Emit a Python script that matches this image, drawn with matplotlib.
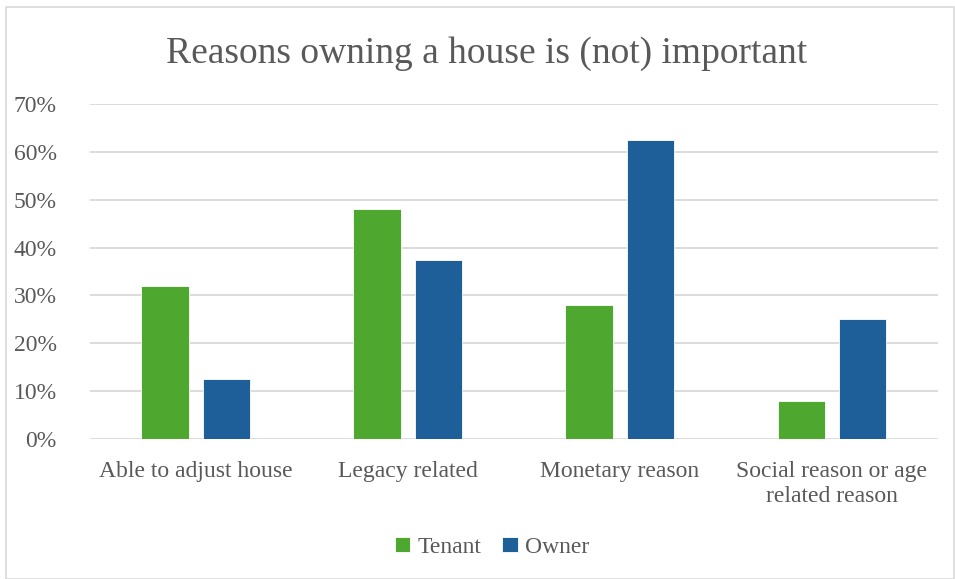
import matplotlib.pyplot as plt
import numpy as np
from matplotlib.patches import Rectangle

categories = ["Able to adjust house", "Legacy related", "Monetary reason",
              "Social reason or age\nrelated reason"]
tenant = [0.32, 0.48, 0.28, 0.08]
owner = [0.125, 0.375, 0.625, 0.25]

plt.rcParams['font.family'] = ['Liberation Serif', 'DejaVu Serif']
text_col = '#595959'

fig = plt.figure(figsize=(9.55, 5.79), dpi=100)
fig.patches.append(Rectangle((0.006, 0.0), 0.993, 0.988, transform=fig.transFigure,
                             fill=False, edgecolor='#D9D9D9', linewidth=1.2))
ax = fig.add_axes([0.0942, 0.2418, 0.888, 0.5786])

x = np.arange(len(categories))
w = 0.226
gap = 0.062
ax.bar(x - (w + gap) / 2, tenant, w, color='#4EA72E', edgecolor='white', linewidth=0.6,
       label='Tenant', zorder=3)
ax.bar(x + (w + gap) / 2, owner, w, color='#1F5F99', edgecolor='white', linewidth=0.6,
       label='Owner', zorder=3)

ax.set_ylim(0, 0.7)
ax.set_xlim(-0.5, len(categories) - 0.5)
ax.set_yticks(np.arange(0, 0.71, 0.1))
ax.set_yticklabels([f"{int(round(v * 100))}%" for v in np.arange(0, 0.71, 0.1)])
ax.set_xticks(x)
ax.set_xticklabels(categories, linespacing=1.25)
ax.tick_params(axis='both', length=0, labelsize=17, labelcolor=text_col)
ax.tick_params(axis='x', pad=16)
ax.tick_params(axis='y', pad=24)
ax.grid(axis='y', color='#D9D9D9', linewidth=1.3, zorder=0)
for s in ax.spines.values():
    s.set_visible(False)

fig.text(0.51, 0.908, "Reasons owning a house is (not) important", ha='center',
         va='center', fontsize=27, color=text_col)

fig.legend(loc='center', bbox_to_anchor=(0.515, 0.055), ncol=2, frameon=False,
           fontsize=17, labelcolor=text_col, handlelength=0.65, handleheight=0.65,
           handletextpad=0.3, columnspacing=0.9)

fig.savefig('out.png', dpi=100)
